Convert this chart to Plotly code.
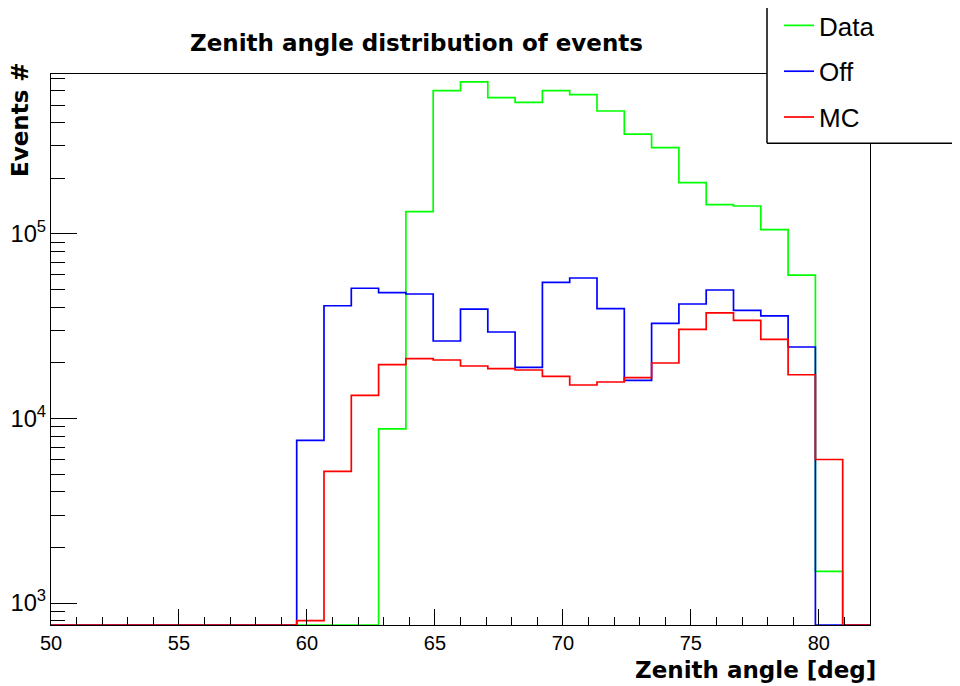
import numpy as np
import plotly.graph_objects as go

# Histogram binning (ROOT TH1: 30 bins from 50 to 82 deg)
x_min, x_max, n_bins = 50.0, 82.0, 30

# Bin contents (bins 0..29)
data_counts = [0, 0, 0, 0, 0, 0, 0, 0, 0, 0, 0, 0,
               8790, 132100, 598000, 666700, 548000, 517000, 598000, 569000,
               464000, 348000, 293600, 189700, 144200, 141800, 105500, 59900,
               1485, 0]
off_counts = [0, 0, 0, 0, 0, 0, 0, 0, 0,
              7620, 40850, 50800, 48060, 47300, 26300, 39200, 29430, 18950,
              54700, 57750, 39370, 16110, 32800, 41750, 49710, 38590, 35950,
              24410, 0, 0]
mc_counts = [0, 0, 0, 0, 0, 0, 0, 0, 0,
             802, 5166, 13360, 19570, 21090, 20750, 19260, 18620, 18320,
             16930, 15190, 15770, 16640, 19990, 30440, 37320, 34050, 26860,
             17270, 5995, 0]

series_names = ["Data", "Off", "MC"]
series_colors = ["#00ff00", "#0000ff", "#ff0000"]

y_log_range = [2.881, 5.867]
y_floor = 10 ** y_log_range[0]

edges = np.linspace(x_min, x_max, n_bins + 1)

# The page body has an 8px margin; the figure is sized so the page is 960x686.
OFF = 8
FIG_W, FIG_H = 960 - OFF, 686 - OFF
# plot-area geometry in screen pixels
L, R, T, B = 51, 870, 74, 625
PW, PH = R - L, B - T


def px(xp):
    return (xp - L) / PW


def py(yp):
    return (B - yp) / PH


fig = go.Figure()
for name, counts, color in zip(series_names,
                               [data_counts, off_counts, mc_counts],
                               series_colors):
    yv = [c if c > 0 else y_floor for c in counts]
    yv = yv + [yv[-1]]
    fig.add_trace(go.Scatter(
        x=edges, y=yv, mode="lines", name=name,
        line=dict(color=color, width=1.7, shape="hv"),
        legendgroup=name,
    ))

# legend frame (extends past the right edge of the canvas, as in the reference)
lg_x0, lg_x1, lg_y0, lg_y1 = px(767), px(960), py(143.3), py(5.7)
box_line = dict(color="black", width=1.5)
legend_box = [
    dict(type="rect", xref="paper", yref="paper",
         x0=lg_x0, x1=lg_x1, y0=lg_y0, y1=lg_y1,
         line=dict(width=0), fillcolor="white", layer="above"),
    dict(type="line", xref="paper", yref="paper",
         x0=lg_x0, x1=lg_x1, y0=lg_y1, y1=lg_y1, line=box_line, layer="above"),
    dict(type="line", xref="paper", yref="paper",
         x0=lg_x0, x1=lg_x1, y0=lg_y0, y1=lg_y0, line=box_line, layer="above"),
    dict(type="line", xref="paper", yref="paper",
         x0=lg_x0, x1=lg_x0, y0=lg_y0, y1=lg_y1, line=box_line, layer="above"),
]

fig.update_layout(
    width=FIG_W, height=FIG_H,
    paper_bgcolor="white", plot_bgcolor="white",
    margin=dict(l=L - OFF, r=960 - R, t=T - OFF, b=686 - B, autoexpand=False),
    font=dict(family="Liberation Sans", size=20, color="black"),
    title=dict(text="Zenith angle distribution of events",
               font=dict(family="DejaVu Sans", size=23, color="black", weight="bold"),
               xref="container", yref="container",
               x=(416.5 - OFF) / FIG_W, xanchor="center",
               y=1 - (43 - OFF) / FIG_H, yanchor="middle"),
    showlegend=True,
    legend=dict(x=px(779), y=py(2),
                xanchor="left", yanchor="top",
                bgcolor="rgba(0,0,0,0)", borderwidth=0,
                font=dict(family="Liberation Sans", size=26, color="black"),
                tracegroupgap=9, traceorder="grouped"),
    xaxis=dict(range=[x_min, x_max], showgrid=False, zeroline=False,
               showline=True, linecolor="black", linewidth=1.2, mirror=True,
               ticks="inside", ticklen=16, tickwidth=1.2, tickcolor="black",
               dtick=5, tick0=50,
               minor=dict(ticks="inside", ticklen=8, dtick=1, tick0=50,
                          tickcolor="black", tickwidth=1.2, showgrid=False),
               tickfont=dict(family="Liberation Sans", size=20)),
    yaxis=dict(type="log", range=y_log_range, showgrid=False, zeroline=False,
               showline=True, linecolor="black", linewidth=1.2, mirror=True,
               ticks="inside", ticklen=26, tickwidth=1.2, tickcolor="black",
               dtick=1, exponentformat="power",
               minor=dict(ticks="inside", ticklen=14, dtick="D1",
                          tickcolor="black", tickwidth=1.2, showgrid=False),
               tickfont=dict(family="Liberation Sans", size=19)),
    shapes=legend_box,
    annotations=[
        dict(text="Zenith angle [deg]", xref="paper", yref="paper",
             x=px(878), y=py(670),
             xanchor="right", yanchor="middle", showarrow=False,
             font=dict(family="DejaVu Sans", size=23, color="black", weight="bold")),
        dict(text="Events #", xref="paper", yref="paper",
             x=px(20), y=py(120), textangle=-90,
             xanchor="center", yanchor="middle", showarrow=False,
             font=dict(family="DejaVu Sans", size=23, color="black", weight="bold")),
    ],
)

fig.write_html("out.html")
